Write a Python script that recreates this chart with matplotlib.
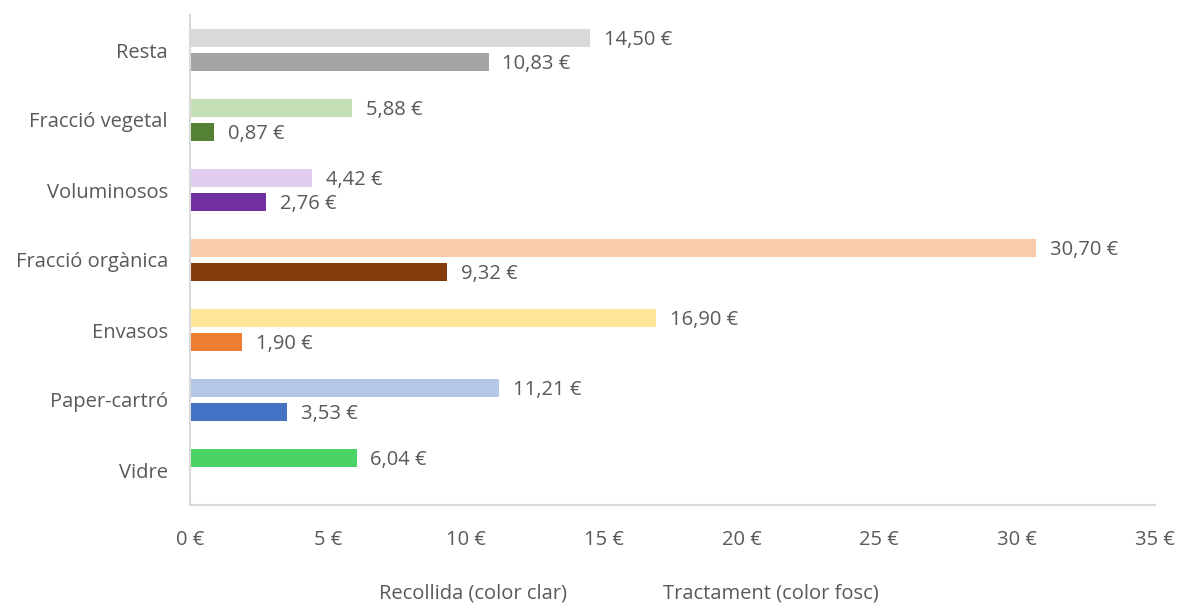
import matplotlib.pyplot as plt
import numpy as np

# categories listed bottom to top
categories = ["Vidre", "Paper-cartró", "Envasos", "Fracció orgànica",
              "Voluminosos", "Fracció vegetal", "Resta"]
recollida = [6.04, 11.21, 16.90, 30.70, 4.42, 5.88, 14.50]
tractament = [np.nan, 3.53, 1.90, 9.32, 2.76, 0.87, 10.83]
light_colors = ["#4CD366", "#B4C7E7", "#FFE699", "#F8CBAD",
                "#E1CCEF", "#C5E0B4", "#D9D9D9"]
dark_colors = ["#4CD366", "#4472C4", "#ED7D31", "#843C0C",
               "#7030A0", "#548235", "#A5A5A5"]
xticks = [0, 5, 10, 15, 20, 25, 30, 35]

TXT = "#595959"
FS = 14.5
plt.rcParams['font.family'] = ['Open Sans', 'DejaVu Sans']


def eur(v):
    return f"{v:.2f}".replace(".", ",") + " €"


fig = plt.figure(figsize=(11.78, 6.04), dpi=100)
ax = fig.add_axes([190 / 1178, 99 / 604, 965 / 1178, 490 / 604])

y = np.arange(len(categories))
h = 0.27
off = 0.171

ax.barh(y + off, recollida, height=h, color=light_colors)
ax.barh(y - off, tractament, height=h, color=dark_colors)

for yi, v in zip(y, recollida):
    ax.text(v + 0.5, yi + off - 0.03, eur(v), va="center", ha="left",
            fontsize=FS, color=TXT)
for yi, v in zip(y, tractament):
    if not np.isnan(v):
        ax.text(v + 0.5, yi - off - 0.03, eur(v), va="center", ha="left",
                fontsize=FS, color=TXT)

ax.set_xlim(0, 35)
ax.set_ylim(-0.5, len(categories) - 0.5)
ax.set_yticks(y)
ax.set_yticklabels(categories, fontsize=FS, color=TXT)
ax.set_xticks(xticks)
ax.set_xticklabels([f"{t} €" for t in xticks], fontsize=FS, color=TXT)
ax.tick_params(axis="both", length=0)
ax.tick_params(axis="x", pad=18)
ax.tick_params(axis="y", pad=16)

for s in ["top", "right"]:
    ax.spines[s].set_visible(False)
for s in ["left", "bottom"]:
    ax.spines[s].set_color("#D9D9D9")
    ax.spines[s].set_linewidth(1.5)

fig.text(473 / 1178, 1 - 593 / 604, "Recollida (color clar)", ha="center",
         va="center", fontsize=FS, color=TXT)
fig.text(771 / 1178, 1 - 593 / 604, "Tractament (color fosc)", ha="center",
         va="center", fontsize=FS, color=TXT)

fig.savefig("out.png", dpi=100)
